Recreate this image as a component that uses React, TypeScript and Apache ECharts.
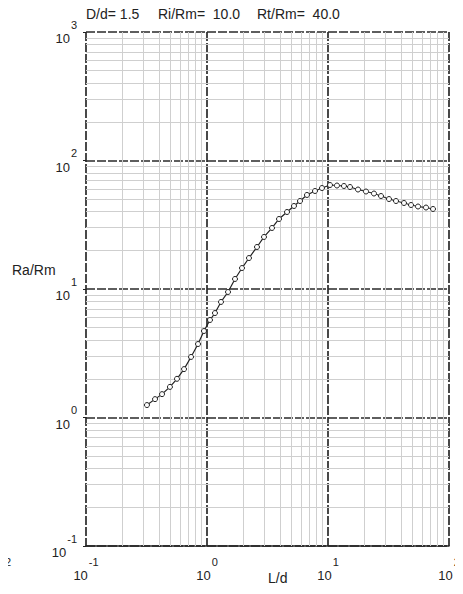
import React, { useEffect, useRef } from "react";
import * as echarts from "echarts";

const titleParts = ["D/d= 1.5", "Ri/Rm=  10.0", "Rt/Rm=  40.0"];
const xName = "L/d";
const yName = "Ra/Rm";

const ldValues = [
  0.319, 0.372, 0.425, 0.494, 0.565, 0.646, 0.738, 0.843, 0.944, 1.059,
  1.164, 1.305, 1.492, 1.704, 1.946, 2.223, 2.589, 2.958, 3.446, 3.936,
  4.585, 5.236, 5.871, 6.702, 7.808, 8.918, 10.39, 11.86, 13.55, 15.2,
  17.7, 20.61, 23.99, 27.42, 31.92, 36.48, 42.46, 48.53, 55.46, 64.56, 73.79,
];
const raRm = [
  1.25, 1.39, 1.52, 1.73, 2.0, 2.38, 2.96, 3.73, 4.71, 5.74,
  6.5, 7.93, 9.48, 11.97, 14.56, 17.42, 21.23, 25.41, 29.85, 35.06,
  39.74, 44.26, 48.39, 53.93, 57.89, 61.07, 64.45, 63.87, 63.33, 62.19,
  59.45, 57.36, 55.34, 52.92, 50.14, 48.39, 46.7, 45.05, 43.85, 43.05, 41.95,
];

const xDecades = [0.1, 1, 10];
const yDecades = [0.1, 1, 10, 100];
const minorMult = [2, 3, 4, 5, 6, 7, 8, 9];

export default function App() {
  const ref = useRef<HTMLDivElement>(null);
  useEffect(() => {
    if (!ref.current) return;
    const chart = echarts.init(ref.current, null, { renderer: "svg" });
    const minorX: number[] = [];
    xDecades.forEach((d) => minorMult.forEach((m) => minorX.push(+(d * m).toPrecision(3))));
    const minorY: number[] = [];
    yDecades.forEach((d) => minorMult.forEach((m) => minorY.push(+(d * m).toPrecision(3))));
    const fmt = (v: number) => `{b|10}{s|${Math.round(Math.log10(v))}}`;
    const rich = {
      b: { fontSize: 13, color: "#222", padding: [13, 1, 0, 0], fontFamily: "Liberation Sans" },
      s: { fontSize: 11, color: "#222", verticalAlign: "top", fontFamily: "Liberation Sans" },
    };
    const titleX = [86, 158, 257];
    chart.setOption({
      animation: false,
      textStyle: { fontFamily: "Liberation Sans" },
      grid: { left: 86, right: 14, top: 32, bottom: 48 },
      xAxis: {
        type: "log",
        logBase: 10,
        min: 0.1,
        max: 100,
        axisLine: { show: true, lineStyle: { color: "#222", width: 1.5 } },
        axisTick: { show: false },
        axisLabel: { formatter: fmt, rich, margin: 10 },
        splitLine: { show: true, lineStyle: { color: "#2a2a2a", width: 1.7, type: [9, 2] } },
      },
      yAxis: {
        type: "log",
        logBase: 10,
        min: 0.1,
        max: 1000,
        axisLine: { show: false },
        axisTick: { show: true, length: 3, lineStyle: { color: "#222" } },
        axisLabel: { formatter: fmt, rich, margin: 9 },
        splitLine: { show: true, lineStyle: { color: "#2a2a2a", width: 1.7, type: [9, 2] } },
      },
      series: [
        {
          type: "line",
          data: [],
          z: 1,
          markLine: {
            silent: true,
            symbol: ["none", "none"],
            label: { show: false },
            lineStyle: { color: "#cfcfcf", type: "solid", width: 1 },
            data: [
              ...minorX.map((v) => ({ xAxis: v })),
              ...minorY.map((v) => ({ yAxis: v })),
            ],
          },
        },
        {
          type: "line",
          z: 5,
          data: ldValues.map((x, i) => [x, raRm[i]]),
          symbol: "circle",
          symbolSize: 5,
          showSymbol: true,
          lineStyle: { color: "#222", width: 1.2 },
          itemStyle: { color: "#fff", borderColor: "#222", borderWidth: 1 },
        },
      ],
      graphic: [
        ...titleParts.map((t, i) => ({
          type: "text",
          x: titleX[i],
          y: 14,
          style: {
            text: t,
            fontSize: 14,
            fill: "#222",
            fontFamily: "Liberation Sans",
            verticalAlign: "middle",
          },
        })),
        {
          type: "text",
          x: 12,
          y: 270,
          style: { text: yName, fontSize: 14, fill: "#222", fontFamily: "Liberation Sans", verticalAlign: "middle" },
        },
        {
          type: "text",
          x: 268,
          y: 578,
          style: { text: xName, fontSize: 14, fill: "#222", fontFamily: "Liberation Sans", verticalAlign: "middle" },
        },
        {
          type: "line",
          shape: { x1: 3, y1: 28, x2: 3, y2: 548 },
          style: { stroke: "#444", lineWidth: 1.5 },
        },
        {
          type: "text",
          x: 5,
          y: 562,
          style: { text: "2", fontSize: 11, fill: "#222", fontFamily: "Liberation Sans", verticalAlign: "middle" },
        },
      ],
    });
    return () => chart.dispose();
  }, []);
  return <div ref={ref} style={{ width: 463, height: 594, margin: -8 }} />;
}
